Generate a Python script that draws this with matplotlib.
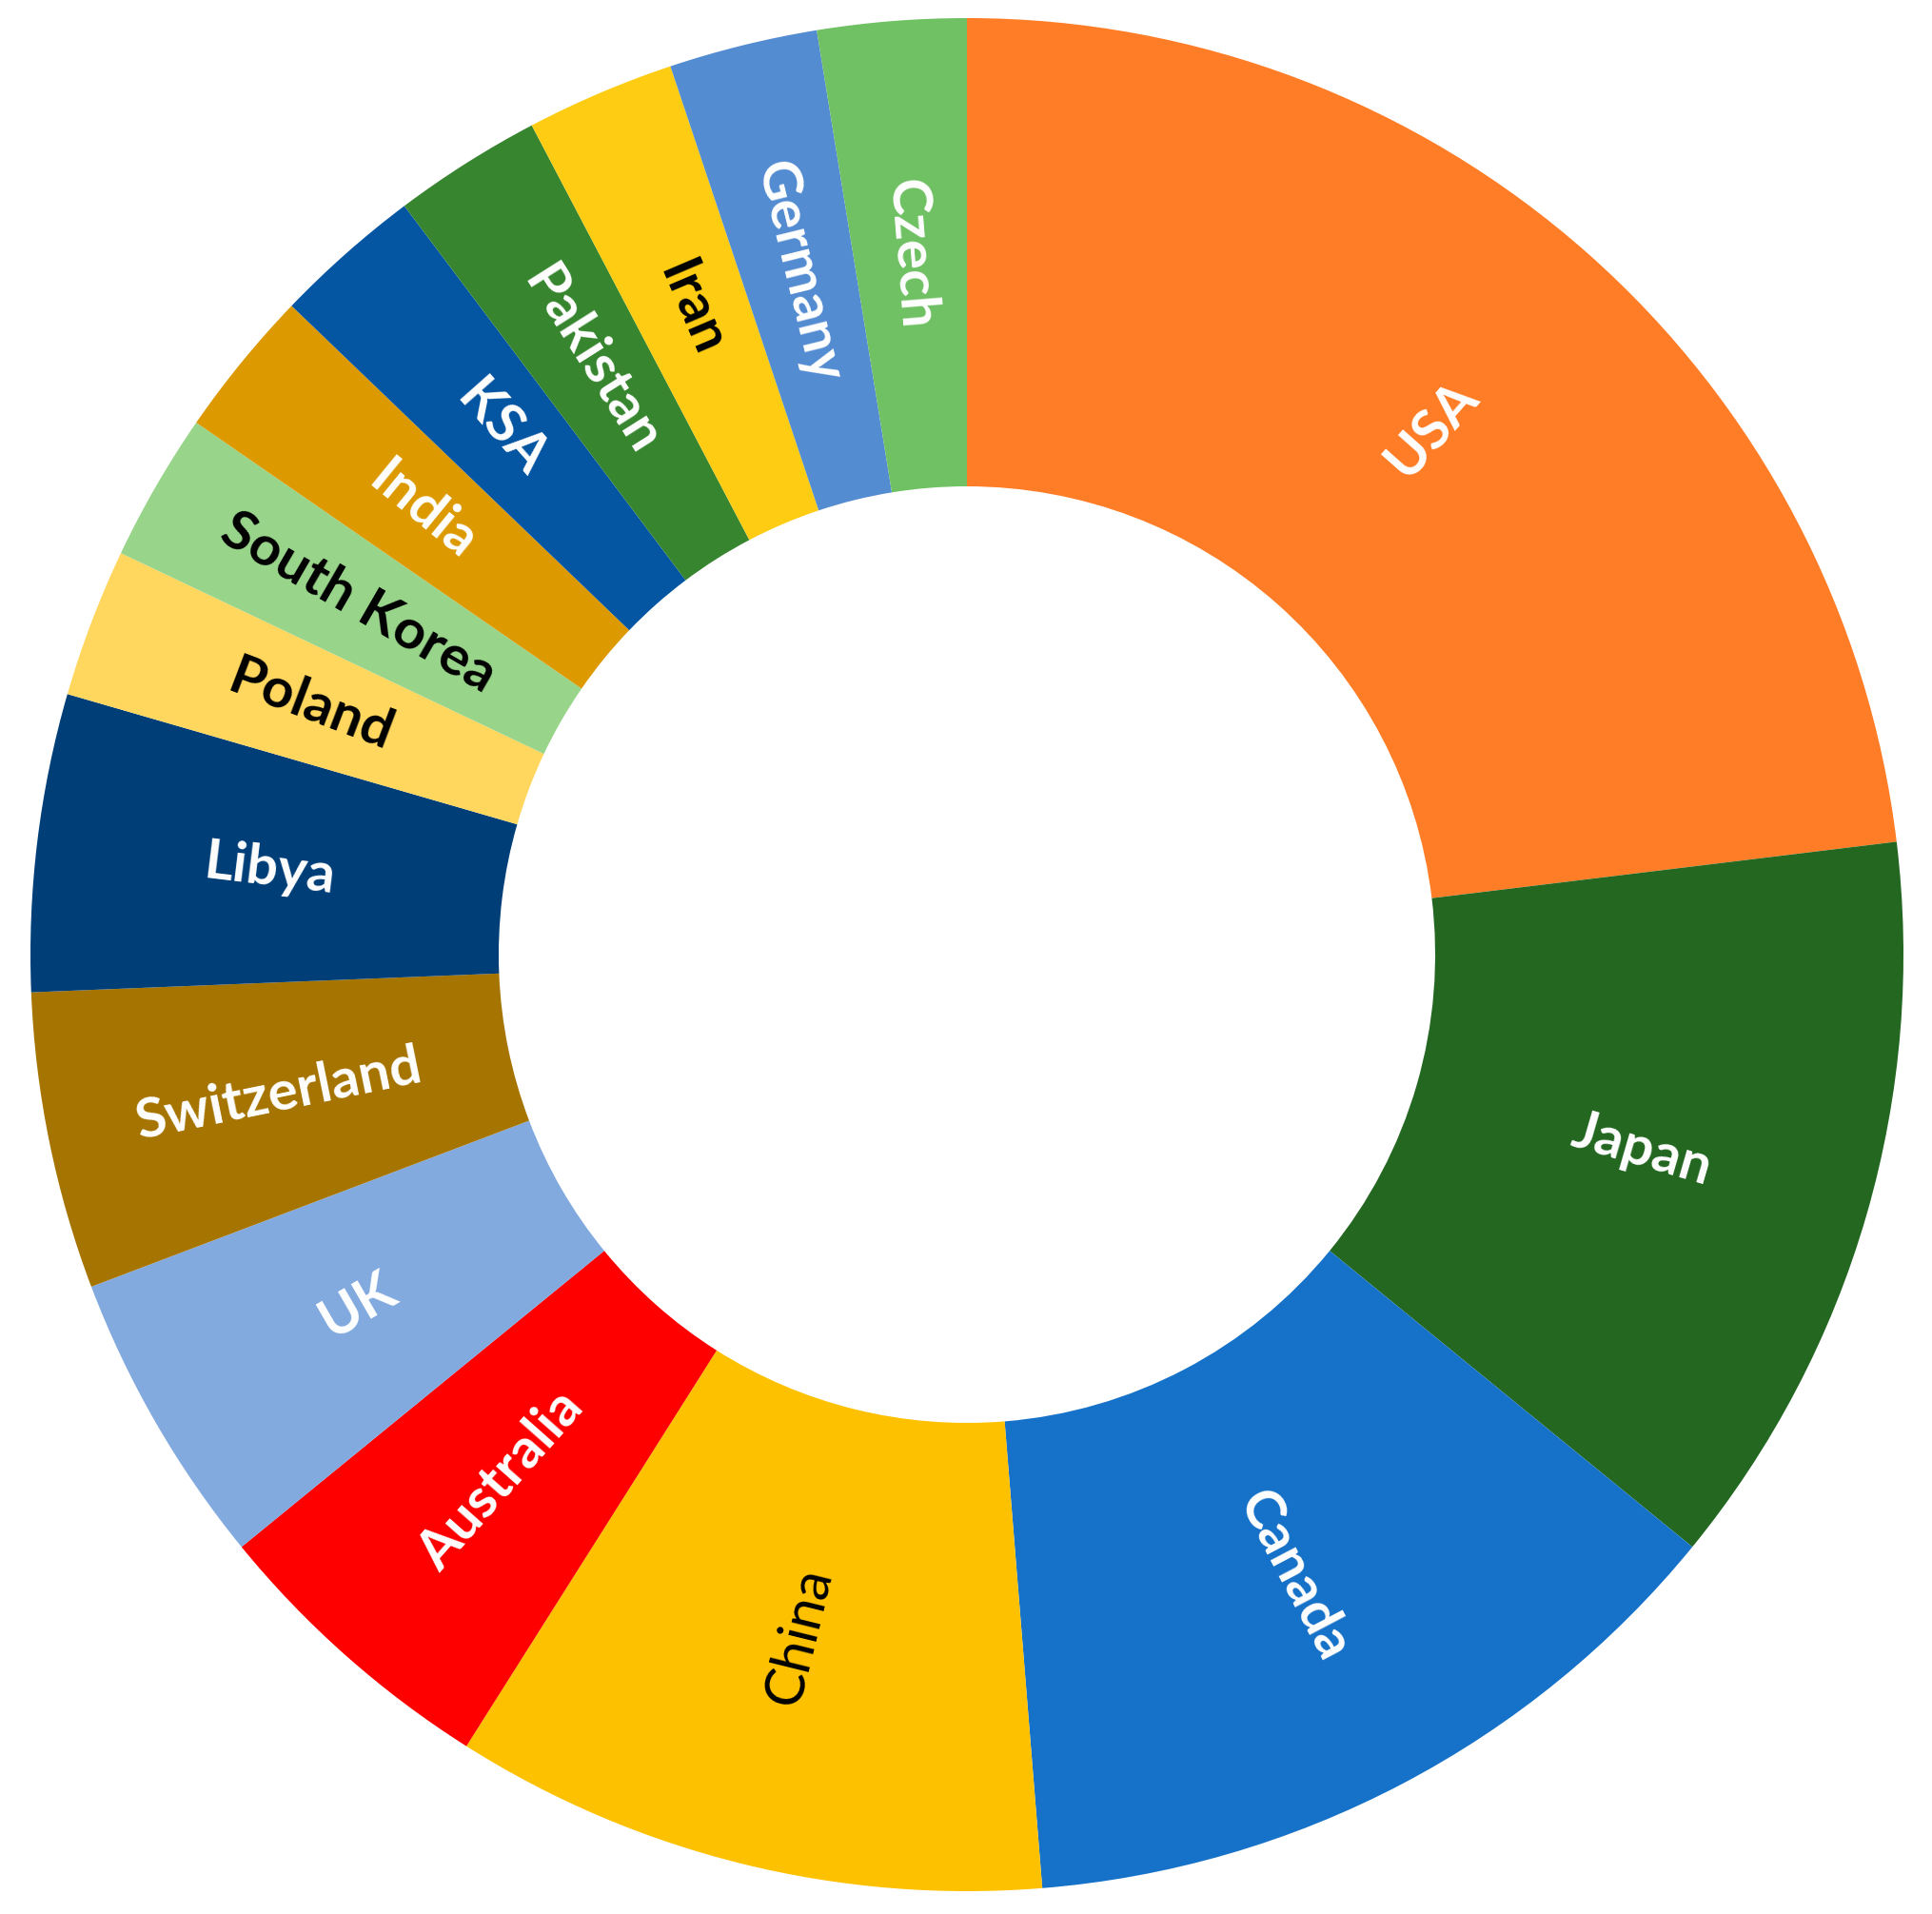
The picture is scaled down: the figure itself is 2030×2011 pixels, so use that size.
import matplotlib.pyplot as plt
import numpy as np

# data: number of studies per country
countries = ["USA", "Japan", "Canada", "China", "Australia", "UK", "Switzerland",
             "Libya", "Poland", "South Korea", "India", "KSA", "Pakistan", "Iran",
             "Germany", "Czech"]
counts = [9, 5, 5, 4, 2, 2, 2, 2, 1, 1, 1, 1, 1, 1, 1, 1]
colors = ["#FE7D26", "#236721", "#1672C8", "#FEC100", "#FE0000", "#82AADF",
          "#A67400", "#003E78", "#FFD75F", "#98D48A", "#DC9A00", "#0455A2",
          "#37862F", "#FECC12", "#548CD2", "#70C064"]
text_colors = ["white", "white", "white", "black", "white", "white", "white",
               "white", "black", "black", "white", "white", "white", "black",
               "white", "white"]

fig = plt.figure(figsize=(20.30, 20.11), dpi=100)
ax = fig.add_axes([0, 0, 1, 1])

wedges, _ = ax.pie(counts, colors=colors, startangle=90, counterclock=False,
                   radius=1.0, wedgeprops=dict(width=0.5, linewidth=0))

# place the pie so it sits like the original (centre ~ (1016, 1003) px, r ~ 984 px)
ax.set_xlim(-1016 / 984, (2030 - 1016) / 984)
ax.set_ylim(-(2011 - 1003) / 984, 1003 / 984)
ax.set_aspect("auto")
ax.axis("off")

# radial labels at mid-ring
for w, name, tc in zip(wedges, countries, text_colors):
    mid = (w.theta1 + w.theta2) / 2
    rad = np.deg2rad(mid)
    x, y = 0.75 * np.cos(rad), 0.75 * np.sin(rad)
    rot = mid % 360
    if 90 < rot < 270:
        rot -= 180
    elif rot >= 270:
        rot -= 360
    weight = "normal" if name == "China" else "bold"
    ax.text(x, y, name, rotation=rot, rotation_mode="anchor",
            ha="center", va="center", color=tc, fontsize=42,
            fontweight=weight, family=["Lato", "DejaVu Sans"])

fig.savefig("out.png", dpi=100, facecolor="white")
